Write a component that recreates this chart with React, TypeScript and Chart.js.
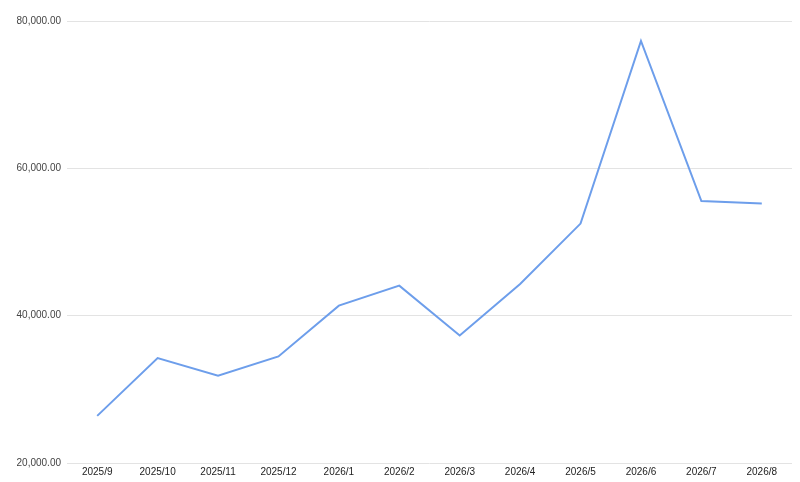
import React, { useEffect, useRef } from "react";
import { Chart, registerables } from "chart.js";

Chart.register(...registerables);

const categories = ["2025/9", "2025/10", "2025/11", "2025/12", "2026/1", "2026/2", "2026/3", "2026/4", "2026/5", "2026/6", "2026/7", "2026/8"];
const values = [26400, 34240, 31840, 34460, 41360, 44080, 37320, 44300, 52500, 77300, 55550, 55240];
const yTicks = [20000, 40000, 60000, 80000];

export default function App() {
  const ref = useRef<HTMLCanvasElement | null>(null);
  useEffect(() => {
    document.body.style.margin = "0";
    const ctx = ref.current!;
    const chart = new Chart(ctx, {
      type: "line",
      data: {
        labels: categories,
        datasets: [
          {
            data: values,
            borderColor: "#6d9eeb",
            borderWidth: 2,
            pointRadius: 0,
            tension: 0,
            fill: false,
          },
        ],
      },
      options: {
        animation: false,
        responsive: false,
        maintainAspectRatio: false,
        plugins: { legend: { display: false }, tooltip: { enabled: false } },
        layout: { padding: { left: 0, right: 8, top: 21, bottom: 0 } },
        scales: {
          x: {
            offset: true,
            grid: { display: false, drawTicks: false },
            border: { display: false },
            ticks: { color: "#222", font: { family: "Arial, 'Liberation Sans'", size: 10 }, padding: 3, maxRotation: 0, autoSkip: false },
            afterFit: (s: any) => { s.height = 19; },
          },
          y: {
            min: 20000,
            max: 80000,
            afterBuildTicks: (s: any) => { s.ticks = yTicks.map((v) => ({ value: v })); },
            grid: { color: "#e3e3e3", lineWidth: 1, drawTicks: false },
            border: { display: false },
            ticks: {
              color: "#444",
              font: { family: "Arial, 'Liberation Sans'", size: 10 },
              padding: 6,
              callback: (v: any) => Number(v).toLocaleString("en-US", { minimumFractionDigits: 2, maximumFractionDigits: 2 }),
            },
            afterFit: (s: any) => { s.width = 67; },
          },
        },
      },
    });
    return () => chart.destroy();
  }, []);
  return <canvas ref={ref} width={800} height={482} style={{ display: "block", width: 800, height: 482 }} />;
}
